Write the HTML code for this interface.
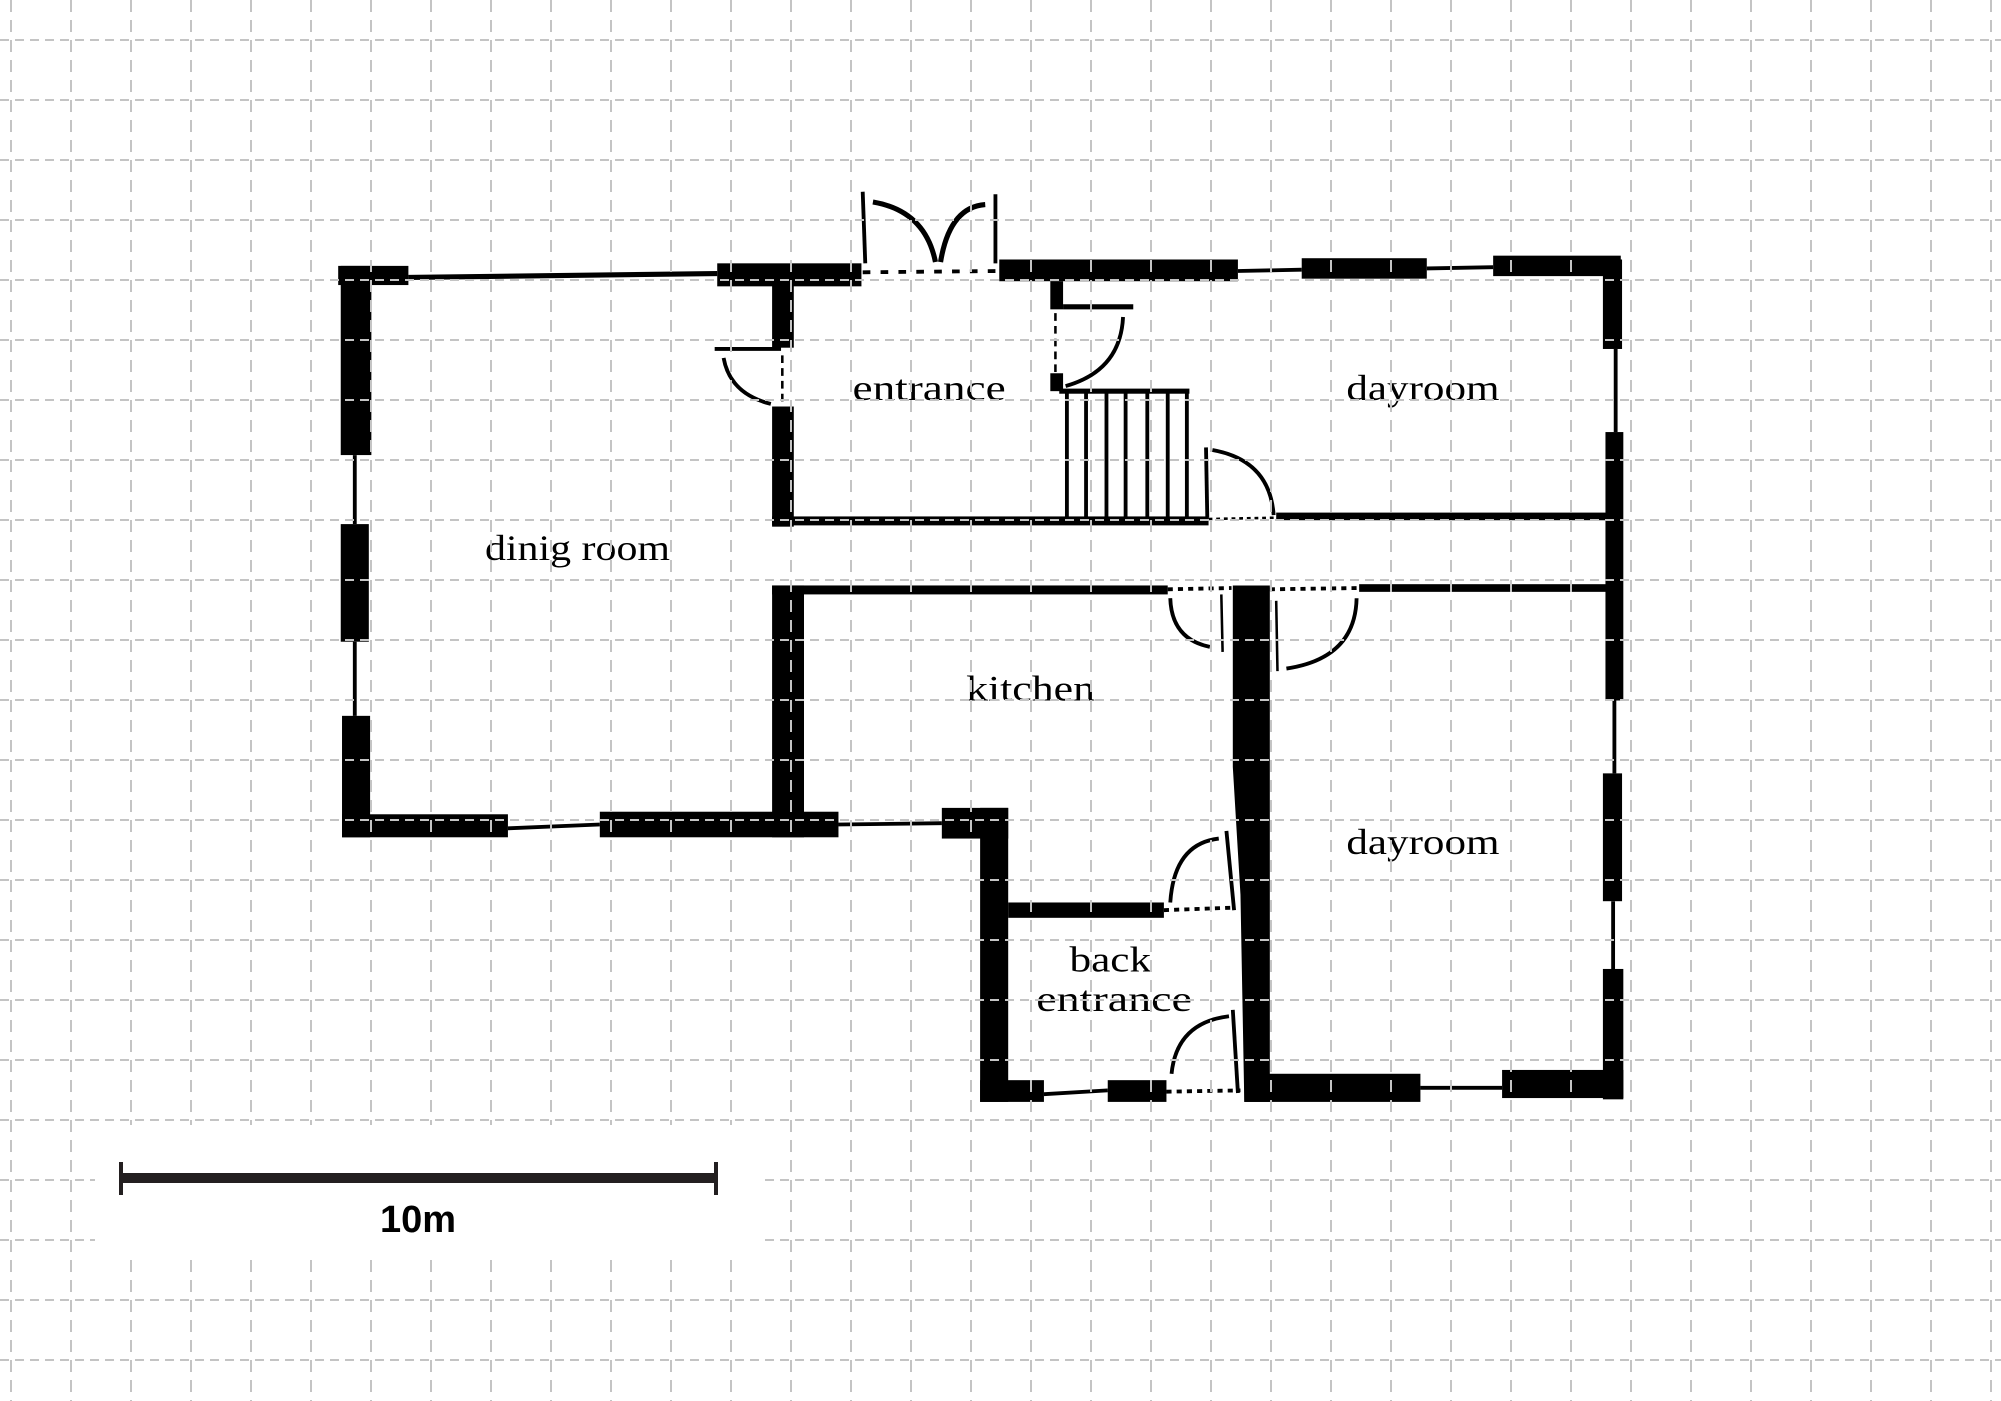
<!DOCTYPE html>
<html><head><meta charset="utf-8"><style>
html,body{margin:0;padding:0;background:#fff;}
svg{display:block;}
</style></head><body>
<svg width="2001" height="1401" viewBox="0 0 2001 1401" xmlns="http://www.w3.org/2000/svg">
<rect width="2001" height="1401" fill="#fff"/>
<g transform="scale(1.2762,1.2783)" fill="#000" stroke="none">
  <rect x="265" y="208" width="55" height="15"/>
  <rect x="267" y="208" width="24" height="148"/>
  <line x1="278" y1="356" x2="278" y2="410" stroke="#000" stroke-width="3"/>
  <rect x="267" y="410" width="22" height="92"/>
  <line x1="278" y1="502" x2="278" y2="560" stroke="#000" stroke-width="3"/>
  <rect x="268" y="560" width="22" height="95"/>
  <rect x="268" y="637" width="130" height="18"/>
  <line x1="398" y1="648" x2="470" y2="645" stroke="#000" stroke-width="3"/>
  <rect x="470" y="635" width="187" height="20"/>
  <line x1="320" y1="217" x2="562" y2="214" stroke="#000" stroke-width="4"/>
  <rect x="562" y="206" width="113" height="18"/>
  <rect x="605" y="220" width="17" height="52"/>
  <rect x="605" y="318" width="17" height="94"/>
  <line x1="560" y1="273" x2="612" y2="273" stroke="#000" stroke-width="3"/>
  <path d="M567 280 Q572 308 604 316" fill="none" stroke="#000" stroke-width="3"/>
  <line x1="613" y1="278" x2="613" y2="318" stroke="#000" stroke-width="2" stroke-dasharray="6,4"/>
  <line x1="676" y1="150" x2="678" y2="206" stroke="#000" stroke-width="3"/>
  <line x1="780" y1="152" x2="780" y2="206" stroke="#000" stroke-width="3"/>
  <path d="M684 158 Q725 165 733 205" fill="none" stroke="#000" stroke-width="4"/>
  <path d="M772 160 Q744 162 737 205" fill="none" stroke="#000" stroke-width="4"/>
  <line x1="676" y1="213" x2="783" y2="212" stroke="#000" stroke-width="3" stroke-dasharray="6,8"/>
  <rect x="783" y="203" width="187" height="17"/>
  <line x1="970" y1="212" x2="1020" y2="211" stroke="#000" stroke-width="3"/>
  <rect x="1020" y="202" width="98" height="16"/>
  <line x1="1118" y1="210" x2="1170" y2="209" stroke="#000" stroke-width="3"/>
  <rect x="1170" y="200" width="100" height="16"/>
  <rect x="1256" y="203" width="15" height="70"/>
  <line x1="1266" y1="273" x2="1266" y2="338" stroke="#000" stroke-width="3"/>
  <rect x="1258" y="338" width="14" height="210"/>
  <line x1="1265" y1="548" x2="1265" y2="605" stroke="#000" stroke-width="3"/>
  <rect x="1256" y="605" width="15" height="100"/>
  <line x1="1264" y1="705" x2="1264" y2="758" stroke="#000" stroke-width="3"/>
  <rect x="1256" y="758" width="16" height="102"/>
  <rect x="823" y="220" width="10" height="22"/>
  <line x1="833" y1="240" x2="888" y2="240" stroke="#000" stroke-width="4"/>
  <path d="M880 248 Q878 290 835 302" fill="none" stroke="#000" stroke-width="3"/>
  <line x1="827" y1="245" x2="827" y2="292" stroke="#000" stroke-width="2" stroke-dasharray="6,4"/>
  <rect x="823" y="292" width="10" height="14"/>
  <rect x="830" y="304" width="102" height="4"/>
  <g stroke="#000" stroke-width="3">
    <line x1="836" y1="306" x2="836" y2="405"/>
    <line x1="851" y1="306" x2="851" y2="405"/>
    <line x1="867" y1="306" x2="867" y2="405"/>
    <line x1="882" y1="306" x2="882" y2="405"/>
    <line x1="899" y1="306" x2="899" y2="405"/>
    <line x1="915" y1="306" x2="915" y2="405"/>
    <line x1="930" y1="306" x2="930" y2="405"/>
    <line x1="945" y1="350" x2="946" y2="405"/>
  </g>
  <path d="M950 352 Q995 360 998 403" fill="none" stroke="#000" stroke-width="3"/>
  <rect x="605" y="404" width="342" height="7"/>
  <line x1="947" y1="406" x2="1000" y2="405" stroke="#000" stroke-width="2" stroke-dasharray="3,3"/>
  <rect x="1000" y="401" width="260" height="6"/>
  <rect x="605" y="458" width="310" height="7"/>
  <line x1="915" y1="461" x2="965" y2="460" stroke="#000" stroke-width="3" stroke-dasharray="4,4"/>
  <line x1="995" y1="461" x2="1065" y2="460" stroke="#000" stroke-width="3" stroke-dasharray="4,4"/>
  <rect x="1065" y="457" width="195" height="6"/>
  <rect x="605" y="458" width="25" height="197"/>
  <path d="M917 468 Q918 500 948 506" fill="none" stroke="#000" stroke-width="3"/>
  <line x1="957" y1="465" x2="958" y2="510" stroke="#000" stroke-width="2"/>
  <path d="M1063 468 Q1062 515 1008 523" fill="none" stroke="#000" stroke-width="3"/>
  <line x1="1000" y1="470" x2="1001" y2="525" stroke="#000" stroke-width="2"/>
  <polygon points="966,458 995,458 995,862 975,862 972,700 966,600"/>
  <line x1="657" y1="645" x2="738" y2="644" stroke="#000" stroke-width="3"/>
  <rect x="738" y="632" width="52" height="24"/>
  <rect x="768" y="632" width="22" height="230"/>
  <rect x="790" y="706" width="122" height="12"/>
  <line x1="912" y1="712" x2="968" y2="710" stroke="#000" stroke-width="3" stroke-dasharray="4,4"/>
  <path d="M917 706 Q920 660 955 656" fill="none" stroke="#000" stroke-width="3"/>
  <line x1="961" y1="650" x2="967" y2="712" stroke="#000" stroke-width="3"/>
  <path d="M918 840 Q922 800 963 795" fill="none" stroke="#000" stroke-width="3"/>
  <line x1="966" y1="790" x2="970" y2="855" stroke="#000" stroke-width="3"/>
  <rect x="768" y="845" width="50" height="17"/>
  <line x1="818" y1="856" x2="868" y2="853" stroke="#000" stroke-width="3"/>
  <rect x="868" y="845" width="46" height="17"/>
  <line x1="914" y1="854" x2="972" y2="853" stroke="#000" stroke-width="3" stroke-dasharray="4,4"/>
  <rect x="975" y="840" width="138" height="22"/>
  <line x1="1113" y1="851" x2="1177" y2="851" stroke="#000" stroke-width="3"/>
  <rect x="1177" y="837" width="95" height="22"/>
  <g font-family="'Liberation Serif', serif" font-size="28" fill="#000" lengthAdjust="spacingAndGlyphs">
    <text x="380" y="438" textLength="145" lengthAdjust="spacingAndGlyphs">dinig room</text>
    <text x="668" y="313" textLength="120" lengthAdjust="spacingAndGlyphs">entrance</text>
    <text x="1055" y="313" textLength="120" lengthAdjust="spacingAndGlyphs">dayroom</text>
    <text x="757" y="548" textLength="101" lengthAdjust="spacingAndGlyphs">kitchen</text>
    <text x="1055" y="668" textLength="120" lengthAdjust="spacingAndGlyphs">dayroom</text>
    <text x="838" y="760" textLength="64" lengthAdjust="spacingAndGlyphs">back</text>
    <text x="812" y="791" textLength="122" lengthAdjust="spacingAndGlyphs">entrance</text>
  </g>
</g>
<g stroke="#c4c4c4" stroke-width="2" fill="none">
  <g stroke-dasharray="9,6">
    <line x1="0" y1="40" x2="2001" y2="40"/><line x1="0" y1="100" x2="2001" y2="100"/>
    <line x1="0" y1="160" x2="2001" y2="160"/><line x1="0" y1="220" x2="2001" y2="220"/>
    <line x1="0" y1="280" x2="2001" y2="280"/><line x1="0" y1="340" x2="2001" y2="340"/>
    <line x1="0" y1="400" x2="2001" y2="400"/><line x1="0" y1="460" x2="2001" y2="460"/>
    <line x1="0" y1="520" x2="2001" y2="520"/><line x1="0" y1="580" x2="2001" y2="580"/>
    <line x1="0" y1="640" x2="2001" y2="640"/><line x1="0" y1="700" x2="2001" y2="700"/>
    <line x1="0" y1="760" x2="2001" y2="760"/><line x1="0" y1="820" x2="2001" y2="820"/>
    <line x1="0" y1="880" x2="2001" y2="880"/><line x1="0" y1="940" x2="2001" y2="940"/>
    <line x1="0" y1="1000" x2="2001" y2="1000"/><line x1="0" y1="1060" x2="2001" y2="1060"/>
    <line x1="0" y1="1120" x2="2001" y2="1120"/><line x1="0" y1="1180" x2="2001" y2="1180"/>
    <line x1="0" y1="1240" x2="2001" y2="1240"/><line x1="0" y1="1300" x2="2001" y2="1300"/>
    <line x1="0" y1="1360" x2="2001" y2="1360"/>
  </g>
  <g stroke-dasharray="12,8">
    <line x1="11" y1="0" x2="11" y2="1401"/><line x1="71" y1="0" x2="71" y2="1401"/>
    <line x1="131" y1="0" x2="131" y2="1401"/><line x1="191" y1="0" x2="191" y2="1401"/>
    <line x1="251" y1="0" x2="251" y2="1401"/><line x1="311" y1="0" x2="311" y2="1401"/>
    <line x1="371" y1="0" x2="371" y2="1401"/><line x1="431" y1="0" x2="431" y2="1401"/>
    <line x1="491" y1="0" x2="491" y2="1401"/><line x1="551" y1="0" x2="551" y2="1401"/>
    <line x1="611" y1="0" x2="611" y2="1401"/><line x1="671" y1="0" x2="671" y2="1401"/>
    <line x1="731" y1="0" x2="731" y2="1401"/><line x1="791" y1="0" x2="791" y2="1401"/>
    <line x1="851" y1="0" x2="851" y2="1401"/><line x1="911" y1="0" x2="911" y2="1401"/>
    <line x1="971" y1="0" x2="971" y2="1401"/><line x1="1031" y1="0" x2="1031" y2="1401"/>
    <line x1="1091" y1="0" x2="1091" y2="1401"/><line x1="1151" y1="0" x2="1151" y2="1401"/>
    <line x1="1211" y1="0" x2="1211" y2="1401"/><line x1="1271" y1="0" x2="1271" y2="1401"/>
    <line x1="1331" y1="0" x2="1331" y2="1401"/><line x1="1391" y1="0" x2="1391" y2="1401"/>
    <line x1="1451" y1="0" x2="1451" y2="1401"/><line x1="1511" y1="0" x2="1511" y2="1401"/>
    <line x1="1571" y1="0" x2="1571" y2="1401"/><line x1="1631" y1="0" x2="1631" y2="1401"/>
    <line x1="1691" y1="0" x2="1691" y2="1401"/><line x1="1751" y1="0" x2="1751" y2="1401"/>
    <line x1="1811" y1="0" x2="1811" y2="1401"/><line x1="1871" y1="0" x2="1871" y2="1401"/>
    <line x1="1931" y1="0" x2="1931" y2="1401"/><line x1="1991" y1="0" x2="1991" y2="1401"/>
  </g>
</g>
<rect x="95" y="1125" width="665" height="130" fill="#fff"/>
<rect x="120" y="1173" width="596" height="10" fill="#231f20"/>
<rect x="119" y="1162" width="4" height="33" fill="#231f20"/>
<rect x="714" y="1162" width="4" height="33" fill="#231f20"/>
<text x="418" y="1232" font-family="'Liberation Sans', sans-serif" font-size="38" font-weight="bold" text-anchor="middle" fill="#000">10m</text>
</svg>
</body></html>
